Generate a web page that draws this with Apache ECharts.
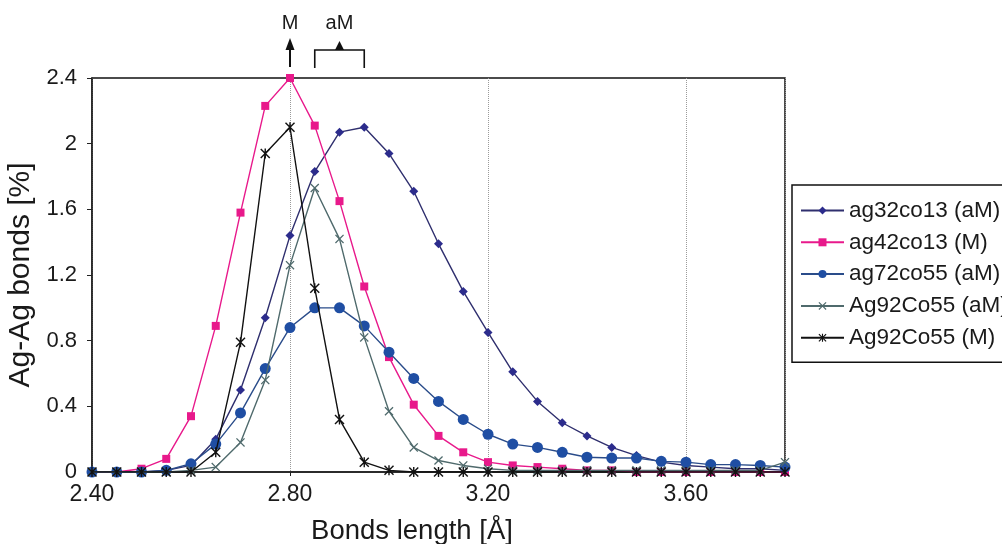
<!DOCTYPE html>
<html>
<head>
<meta charset="utf-8">
<script src="https://cdn.jsdelivr.net/npm/echarts@6/dist/echarts.min.js"></script>
<style>
  html, body { margin: 0; padding: 0; background: #fff; }
  #chart { width: 1002px; height: 544px; }
</style>
</head>
<body>
<div id="chart"></div>
<script>
// Bond length bins (Å)
const bondLength = [2.40, 2.45, 2.50, 2.55, 2.60, 2.65, 2.70, 2.75, 2.80, 2.85,
                    2.90, 2.95, 3.00, 3.05, 3.10, 3.15, 3.20, 3.25, 3.30, 3.35,
                    3.40, 3.45, 3.50, 3.55, 3.60, 3.65, 3.70, 3.75, 3.80];

// Share of Ag-Ag bonds (%) per bin
const ag32co13_aM = [0, 0, 0, 0.01, 0.04, 0.20, 0.50, 0.94, 1.44, 1.83,
                     2.07, 2.10, 1.94, 1.71, 1.39, 1.10, 0.85, 0.61, 0.43, 0.30,
                     0.22, 0.15, 0.10, 0.06, 0.04, 0.03, 0.02, 0.02, 0.01];
const ag42co13_M  = [0, 0, 0.02, 0.08, 0.34, 0.89, 1.58, 2.23, 2.40, 2.11,
                     1.65, 1.13, 0.70, 0.41, 0.22, 0.12, 0.06, 0.04, 0.03, 0.02,
                     0.01, 0.01, 0, 0, 0, 0, 0, 0, 0];
const ag72co55_aM = [0, 0, 0, 0.01, 0.05, 0.17, 0.36, 0.63, 0.88, 1.00,
                     1.00, 0.89, 0.73, 0.57, 0.43, 0.32, 0.23, 0.17, 0.15, 0.12,
                     0.09, 0.085, 0.085, 0.065, 0.06, 0.045, 0.045, 0.04, 0.03];
const ag92co55_aM = [0, 0, 0, 0, 0.01, 0.03, 0.18, 0.56, 1.26, 1.73,
                     1.42, 0.82, 0.37, 0.15, 0.07, 0.04, 0.02, 0.01, 0.01, 0.01,
                     0.01, 0.01, 0.01, 0.01, 0.01, 0.01, 0.01, 0.01, 0.06];
const ag92co55_M  = [0, 0, 0, 0, 0, 0.12, 0.79, 1.94, 2.10, 1.12,
                     0.32, 0.06, 0.01, 0, 0, 0, 0, 0, 0, 0,
                     0, 0, 0, 0, 0, 0, 0, 0, 0];

const seriesNames = ['ag32co13 (aM)', 'ag42co13 (M)', 'ag72co55 (aM)', 'Ag92Co55 (aM)', 'Ag92Co55 (M)'];

// Axis ticks
const xTicks = [2.40, 2.80, 3.20, 3.60];
const yTicks = [0, 0.4, 0.8, 1.2, 1.6, 2, 2.4];

// Annotation markers above the plot: single position (M) and range (aM)
const mMarkAt = 2.80;
const aMRange = [2.85, 2.95];

const FONT = '"Liberation Sans", Arial, sans-serif';
const crossPath = 'path://M1,0 L5,4 L9,0 L10,1 L6,5 L10,9 L9,10 L5,6 L1,10 L0,9 L4,5 L0,1 Z';
const starPath = crossPath + ' M4.3,0 L5.7,0 L5.7,10 L4.3,10 Z';

function pairs(vals) {
  return bondLength.map((x, i) => [x, vals[i]]);
}

const styles = [
  { data: ag32co13_aM, line: '#2f2f6e', mark: '#2c2c8c', symbol: 'diamond', size: 9 },
  { data: ag42co13_M,  line: '#e8198b', mark: '#e8198b', symbol: 'rect',    size: 8 },
  { data: ag72co55_aM, line: '#2a4c8a', mark: '#1f4ea3', symbol: 'circle',  size: 11 },
  { data: ag92co55_aM, line: '#4f6a6c', mark: '#4f6a6c', symbol: crossPath, size: 9 },
  { data: ag92co55_M,  line: '#111111', mark: '#111111', symbol: starPath,  size: 10 }
];

const chart = echarts.init(document.getElementById('chart'), null, { renderer: 'canvas' });

const option = {
  animation: false,
  backgroundColor: '#fff',
  grid: {
    left: 92, right: 217, top: 78, bottom: 72,
    outerBoundsMode: 'none',
    containLabel: false,
    show: true, borderColor: '#111', borderWidth: 1.5, backgroundColor: 'transparent'
  },
  xAxis: {
    type: 'value',
    min: xTicks[0], max: 3.80, interval: 0.4,
    name: 'Bonds length [Å]',
    nameLocation: 'middle', nameGap: 45,
    nameTextStyle: { fontFamily: FONT, fontSize: 27.5, color: '#1a1a1a', padding: [0, 53, 0, 0] },
    axisLine: { lineStyle: { color: '#222', width: 1.5 } },
    axisTick: { show: true, length: 4, lineStyle: { color: '#222' } },
    axisLabel: {
      fontFamily: FONT, fontSize: 23, color: '#1a1a1a', margin: 11,
      showMaxLabel: false,
      formatter: v => xTicks.some(t => Math.abs(t - v) < 1e-6) ? v.toFixed(2) : ''
    },
    splitLine: { show: true, lineStyle: { color: '#9a9a9a', type: 'dotted', width: 1 } }
  },
  yAxis: {
    type: 'value',
    min: yTicks[0], max: yTicks[yTicks.length - 1], interval: 0.4,
    name: 'Ag-Ag bonds [%]',
    nameLocation: 'middle', nameGap: 54,
    nameTextStyle: { fontFamily: FONT, fontSize: 30, color: '#1a1a1a' },
    axisLine: { show: true, lineStyle: { color: '#222', width: 1.5 } },
    axisTick: { show: true, length: 5, lineStyle: { color: '#222' } },
    axisLabel: {
      fontFamily: FONT, fontSize: 22, color: '#1a1a1a', margin: 15,
      formatter: v => String(parseFloat(v.toFixed(1)))
    },
    splitLine: { show: false }
  },
  legend: {
    orient: 'vertical',
    left: 792, top: 185,
    padding: [14, 40, 13, 8],
    itemWidth: 43, itemHeight: 10, itemGap: 8.8,
    borderColor: '#111', borderWidth: 1.5,
    backgroundColor: '#fff',
    textStyle: { fontFamily: FONT, fontSize: 22.5, color: '#1a1a1a', lineHeight: 20 },
    data: seriesNames
  },
  series: styles.map((s, i) => ({
    name: seriesNames[i],
    type: 'line',
    data: pairs(s.data),
    symbol: s.symbol,
    symbolSize: s.size,
    showAllSymbol: true,
    lineStyle: { color: s.line, width: 1.4 },
    itemStyle: { color: s.mark, borderWidth: 0 },
    emphasis: { disabled: true },
    z: 2 + i
  }))
};

chart.setOption(option);

// Annotation arrows placed with the x axis scale
const xm = chart.convertToPixel({ xAxisIndex: 0 }, mMarkAt);
const xa0 = chart.convertToPixel({ xAxisIndex: 0 }, aMRange[0]);
const xa1 = chart.convertToPixel({ xAxisIndex: 0 }, aMRange[1]);
const xac = (xa0 + xa1) / 2;
const ink = '#111';

chart.setOption({
  graphic: [
    { type: 'text',
      style: { text: 'M', font: '20px ' + FONT, fill: '#1a1a1a', textAlign: 'center' },
      position: [xm, 13] },
    { type: 'line', shape: { x1: xm, y1: 67, x2: xm, y2: 48 }, style: { stroke: ink, lineWidth: 2 } },
    { type: 'polygon', shape: { points: [[xm, 38], [xm - 4.5, 50], [xm + 4.5, 50]] }, style: { fill: ink } },
    { type: 'text',
      style: { text: 'aM', font: '20px ' + FONT, fill: '#1a1a1a', textAlign: 'center' },
      position: [xac, 13] },
    { type: 'polyline', shape: { points: [[xa0, 68], [xa0, 50], [xa1, 50], [xa1, 68]] },
      style: { stroke: ink, lineWidth: 1.6, fill: null } },
    { type: 'polygon', shape: { points: [[xac, 41], [xac - 4.5, 50], [xac + 4.5, 50]] }, style: { fill: ink } }
  ]
});
</script>
</body>
</html>
